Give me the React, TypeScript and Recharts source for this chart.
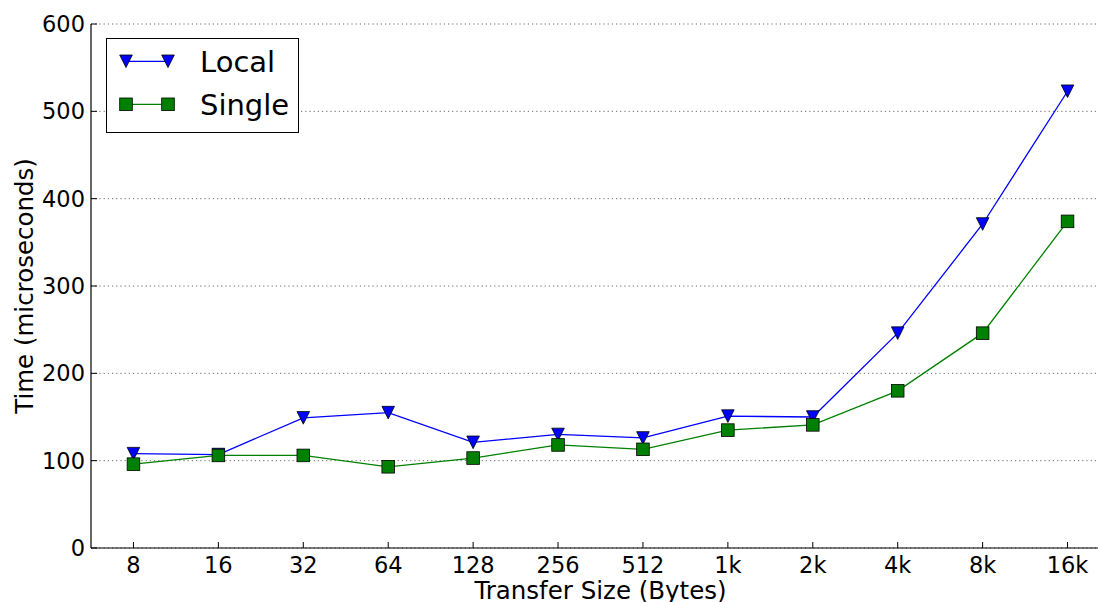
import { LineChart, Line, XAxis, YAxis, CartesianGrid, Legend, Label } from 'recharts';

const sizes = ['8', '16', '32', '64', '128', '256', '512', '1k', '2k', '4k', '8k', '16k'];
const localTimes = [108, 107, 149, 155, 121, 130, 126, 151, 150, 246, 371, 523];
const singleTimes = [96, 106, 106, 93, 103, 118, 113, 135, 141, 180, 246, 374];
const yTicks = [0, 100, 200, 300, 400, 500, 600];

const data = sizes.map((s, i) => ({ idx: i, size: s, local: localTimes[i], single: singleTimes[i] }));
const xTicks = sizes.map((_, i) => i);

const FONT = 'DejaVu Sans';
const BLUE = '#0000ff';
const GREEN = '#008000';

const tri = (cx: number, cy: number, r = 6.3) =>
  `M${cx - r},${cy - r}L${cx + r},${cy - r}L${cx},${cy + r}Z`;

const TriDot = (p: any) => {
  if (p.cx == null || p.cy == null) return <g key={p.key} />;
  return <path key={p.key} d={tri(p.cx, p.cy)} fill={BLUE} stroke="#000" strokeWidth={0.8} />;
};

const SqDot = (p: any) => {
  if (p.cx == null || p.cy == null) return <g key={p.key} />;
  return (
    <rect key={p.key} x={p.cx - 6.3} y={p.cy - 6.3} width={12.6} height={12.6}
      fill={GREEN} stroke="#000" strokeWidth={0.8} />
  );
};

const LegendBox = () => (
  <svg width={194} height={96} style={{ display: 'block' }}>
    <rect x={0.5} y={0.5} width={192} height={94} fill="#fff" stroke="#000" strokeWidth={1} />
    <line x1={20} x2={62} y1={23.3} y2={23.3} stroke={BLUE} strokeWidth={1.3} />
    <path d={tri(20, 23.3)} fill={BLUE} stroke="#000" strokeWidth={0.8} />
    <path d={tri(62, 23.3)} fill={BLUE} stroke="#000" strokeWidth={0.8} />
    <text x={94} y={34} fontSize={29} fontFamily={FONT} fill="#000">Local</text>
    <line x1={20} x2={62} y1={66.3} y2={66.3} stroke={GREEN} strokeWidth={1.3} />
    <rect x={13.7} y={60} width={12.6} height={12.6} fill={GREEN} stroke="#000" strokeWidth={0.8} />
    <rect x={55.7} y={60} width={12.6} height={12.6} fill={GREEN} stroke="#000" strokeWidth={0.8} />
    <text x={94} y={76.5} fontSize={29} fontFamily={FONT} fill="#000">Single</text>
  </svg>
);

const YTitle = ({ viewBox }: any) => {
  const x = viewBox.x + 33;
  const y = viewBox.y + viewBox.height / 2;
  return (
    <text x={x} y={y} transform={`rotate(-90 ${x} ${y})`} textAnchor="middle"
      fontSize={24.5} fontFamily={FONT} fill="#000">Time (microseconds)</text>
  );
};

const XTitle = ({ viewBox }: any) => (
  <text x={viewBox.x + viewBox.width / 2} y={viewBox.y + viewBox.height - 3} textAnchor="middle"
    fontSize={24.5} fontFamily={FONT} fill="#000">Transfer Size (Bytes)</text>
);

const tickStyle = { fill: '#000', fontSize: 22.5, fontFamily: FONT };

export default function App() {
  return (
    <div style={{ position: 'absolute', left: 0, top: 0, width: 1098, height: 602, overflow: 'hidden', background: '#fff' }}>
      <LineChart width={1110} height={602} data={data} margin={{ top: 24, right: 0, left: 0, bottom: 0 }}>
        <CartesianGrid vertical={false} stroke="#444" strokeWidth={0.8} strokeDasharray="1.2 3" />
        <XAxis
          dataKey="idx" type="number" domain={[-0.5, 11.5]} ticks={xTicks} allowDataOverflow
          tickFormatter={(v: number) => sizes[v] ?? ''} interval={0}
          height={54} tick={tickStyle} tickSize={-6} tickMargin={15}
          axisLine={{ stroke: '#000', strokeWidth: 1.2 }} tickLine={{ stroke: '#000' }}
        >
          <Label content={<XTitle />} />
        </XAxis>
        <XAxis
          xAxisId="top" orientation="top" dataKey="idx" type="number" domain={[-0.5, 11.5]}
          ticks={xTicks} allowDataOverflow height={0} tickSize={-6} tickFormatter={() => ''}
          axisLine={{ stroke: '#000', strokeWidth: 1.2 }} tickLine={{ stroke: '#000' }}
        />
        <YAxis
          type="number" domain={[0, 600]} ticks={yTicks} allowDataOverflow width={91}
          tick={tickStyle} tickSize={-6} tickMargin={12}
          axisLine={{ stroke: '#000', strokeWidth: 1.2 }} tickLine={{ stroke: '#000' }}
        >
          <Label content={<YTitle />} />
        </YAxis>
        <Legend
          layout="horizontal" align="center" verticalAlign="middle"
          content={<LegendBox />}
          wrapperStyle={{ left: 105.5, top: 37.5, width: 'auto', height: 'auto' }}
        />
        <Line
          dataKey="local" name="Local" stroke={BLUE} strokeWidth={1.3}
          dot={TriDot} activeDot={false} isAnimationActive={false}
        />
        <Line
          dataKey="single" name="Single" stroke={GREEN} strokeWidth={1.3}
          dot={SqDot} activeDot={false} isAnimationActive={false}
        />
      </LineChart>
    </div>
  );
}
